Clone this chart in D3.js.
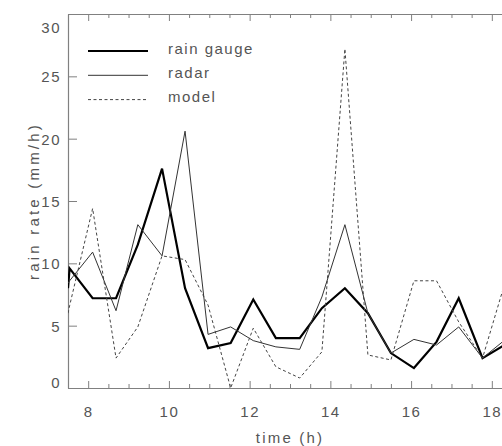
<!DOCTYPE html>
<html>
<head>
<meta charset="utf-8">
<script src="https://cdn.jsdelivr.net/npm/d3@7"></script>
<style>
  body { margin: 0; background: #fff; }
  text { font-family: "Liberation Sans", Arial, sans-serif; font-size: 15px; fill: #555; letter-spacing: 1.5px; }
</style>
</head>
<body>
<div id="chart"></div>
<script>
// time of each sample (h)
const times = [7.50, 7.54, 8.11, 8.69, 9.23, 9.83, 10.40, 10.97, 11.53, 12.09, 12.65,
  13.24, 13.79, 14.36, 14.93, 15.50, 16.07, 16.63, 17.18, 17.77, 18.34];

// rain rate (mm/h)
const rainGauge = [8.0, 9.6, 7.2, 7.2, 11.5, 17.6, 8.0, 3.2, 3.6, 7.1, 4.0,
  4.0, 6.4, 8.0, 6.0, 2.8, 1.6, 3.7, 7.2, 2.4, 3.5];
const radar = [8.4, 8.6, 10.9, 6.2, 13.1, 10.6, 20.6, 4.3, 4.9, 3.8, 3.3,
  3.1, 7.3, 13.1, 6.0, 2.8, 3.9, 3.45, 4.9, 2.4, 3.9];
const model = [6.0, 6.6, 14.4, 2.4, 4.9, 10.6, 10.3, 6.65, 0.0, 4.8, 1.7,
  0.8, 2.9, 27.2, 2.65, 2.25, 8.6, 8.6, 5.3, 2.4, 8.6];

const seriesNames = ['rain gauge', 'radar', 'model'];
const xTicks = [8, 10, 12, 14, 16, 18];
const yTicks = [0, 5, 10, 15, 20, 25, 30];

const width = 502;
const height = 446;
const margins = { top: 14, left: 68, bottom: 58 };
const innerWidth = 444;   // right side runs off the picture
const innerHeight = height - margins.top - margins.bottom;

const svg = d3.select('#chart')
  .append('svg')
  .attr('width', width)
  .attr('height', height);

const g = svg.append('g')
  .attr('transform', `translate(${margins.left},${margins.top})`);

const xScale = d3.scaleLinear().domain([7.5, 18.5]).range([0, innerWidth]);
const yScale = d3.scaleLinear().domain([0, 30]).range([innerHeight, 0]);

g.append('clipPath').attr('id', 'plot-clip')
  .append('rect')
  .attr('width', innerWidth)
  .attr('height', innerHeight);

// minor ticks every half hour
const minorX = d3.range(7.5, 18.51, 0.5).filter(t => !xTicks.includes(t));

const axisColor = '#808080';

function styleAxis(sel) {
  sel.selectAll('path, line').attr('stroke', axisColor);
  sel.select('.domain').attr('stroke-width', 1.2);
}

// bottom axis
g.append('g')
  .attr('transform', `translate(0,${innerHeight})`)
  .call(d3.axisBottom(xScale).tickValues(xTicks).tickFormat(d3.format('d'))
    .tickSizeInner(-7).tickSizeOuter(0).tickPadding(18))
  .call(styleAxis)
  .call(a => a.selectAll('text').attr('font-size', null).attr('font-family', null).attr('fill', null));

g.append('g')
  .attr('transform', `translate(0,${innerHeight})`)
  .call(d3.axisBottom(xScale).tickValues(minorX).tickFormat('')
    .tickSizeInner(-4).tickSizeOuter(0))
  .call(styleAxis);

// top axis
g.append('g')
  .call(d3.axisTop(xScale).tickValues(xTicks).tickFormat('')
    .tickSizeInner(-7).tickSizeOuter(0))
  .call(styleAxis);

g.append('g')
  .call(d3.axisTop(xScale).tickValues(minorX).tickFormat('')
    .tickSizeInner(-4).tickSizeOuter(0))
  .call(styleAxis);

// left axis (end labels are kept inside the frame)
g.append('g')
  .call(d3.axisLeft(yScale).tickValues(yTicks)
    .tickSizeInner(-9).tickSizeOuter(0).tickPadding(7))
  .call(styleAxis)
  .call(a => a.selectAll('text')
    .attr('font-size', null).attr('font-family', null).attr('fill', null)
    .attr('dy', null)
    .attr('y', d => Math.min(Math.max(yScale(d) + 5.5, 18.5), innerHeight - 0.5) - yScale(d)));

// series
const seriesData = [rainGauge, radar, model];
const seriesStyle = [
  { stroke: '#000', width: 2.2, dash: null },
  { stroke: '#333', width: 1, dash: null },
  { stroke: '#444', width: 1, dash: '3,2.5' }
];

const line = d3.line()
  .x((d, i) => xScale(times[i]))
  .y(d => yScale(d));

const plot = g.append('g').attr('clip-path', 'url(#plot-clip)');

plot.selectAll('.series')
  .data(seriesData)
  .enter()
  .append('path')
  .attr('class', 'series')
  .attr('fill', 'none')
  .attr('stroke', (d, i) => seriesStyle[i].stroke)
  .attr('stroke-width', (d, i) => seriesStyle[i].width)
  .attr('stroke-dasharray', (d, i) => seriesStyle[i].dash)
  .attr('stroke-linejoin', 'miter')
  .attr('d', line);

// axis titles
g.append('text')
  .attr('text-anchor', 'middle')
  .attr('x', innerWidth / 2)
  .attr('y', innerHeight + 55)
  .style('letter-spacing', '2.2px')
  .text('time (h)');

g.append('text')
  .attr('text-anchor', 'middle')
  .attr('transform', 'rotate(-90)')
  .attr('x', -innerHeight / 2)
  .attr('y', -29)
  .style('letter-spacing', '3.2px')
  .text('rain rate (mm/h)');

// legend
const legend = g.append('g').attr('transform', 'translate(20,37)');

const legendItems = seriesNames.map((name, i) => ({
  label: name,
  style: seriesStyle[i],
  y: i * 24.3
}));

legend.selectAll('line')
  .data(legendItems)
  .enter()
  .append('line')
  .attr('x1', 0)
  .attr('x2', 60)
  .attr('y1', d => d.y)
  .attr('y2', d => d.y)
  .attr('stroke', d => d.style.stroke)
  .attr('stroke-width', d => d.style.width)
  .attr('stroke-dasharray', d => d.style.dash);

legend.selectAll('text')
  .data(legendItems)
  .enter()
  .append('text')
  .attr('x', 80)
  .attr('y', d => d.y + 2.5)
  .text(d => d.label);
</script>
</body>
</html>
